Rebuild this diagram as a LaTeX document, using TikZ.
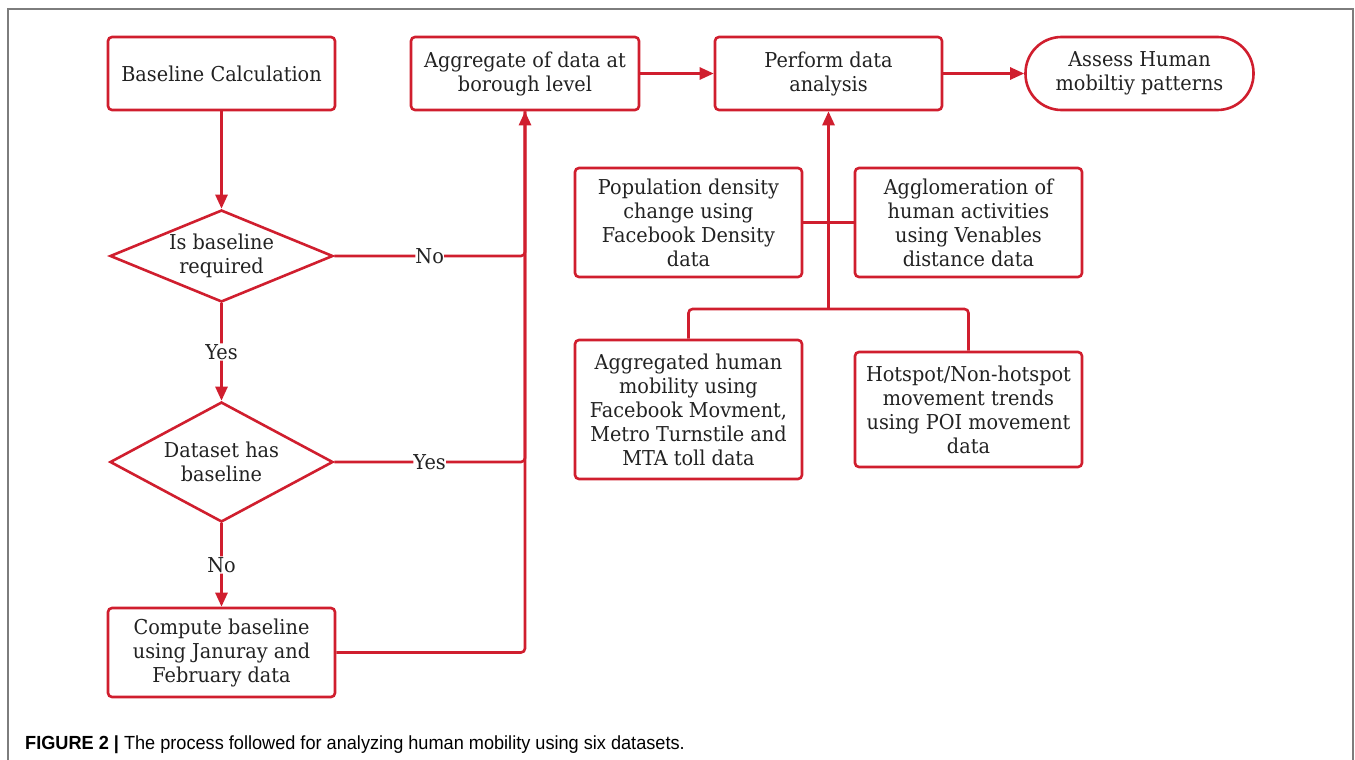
\documentclass[tikz,border=0pt]{standalone}
\usepackage{fontspec}
\setmainfont{DejaVu Serif}[FakeStretch=0.94]
\newfontfamily\capfont{Liberation Sans}[FakeStretch=0.955]
\usetikzlibrary{shapes.geometric,arrows.meta,calc}
\definecolor{fred}{RGB}{208,30,46}
\definecolor{ftxt}{RGB}{34,34,34}
\definecolor{fgray}{RGB}{125,125,125}
\newcommand\myfs{\fontsize{20.5}{24}\selectfont}
\begin{document}
\begin{tikzpicture}[x=1pt,y=-1pt,
  box/.style={draw=fred, line width=2.6pt, rounded corners=4pt, align=center, text=ftxt,
    font=\myfs, inner sep=0pt, minimum width=227pt, minimum height=73pt, fill=white},
  stadium/.style={box, rounded corners=36pt},
  dia/.style={draw=fred, line width=2.6pt, shape=diamond, inner sep=0pt, fill=white},
  txt/.style={align=center, text=ftxt, font=\myfs, inner sep=0pt},
  conn/.style={draw=fred, line width=2.6pt, rounded corners=4pt},
  arr/.style={conn, -{Triangle[length=14pt,width=12pt]}},
  lab/.style={fill=white, text=ftxt, font=\myfs, inner sep=1pt}
]
\useasboundingbox (0,0) rectangle (1355,760);
\draw[fgray, line width=1.5pt] (8,760) -- (8,9) -- (1353,9) -- (1353,760);

% top row
\node[box] (base) at (221.5,73.5) {Baseline Calculation};
\node[box, minimum width=228pt] (agg) at (525,73.5) {Aggregate of data at\\borough level};
\node[box] (perf) at (828.5,73.5) {Perform data\\analysis};
\node[stadium, minimum width=228pt] (assess) at (1139.5,73.5) {Assess Human\\mobiltiy patterns};

% decisions
\node[dia, minimum width=223pt, minimum height=92pt] (d1) at (221.5,256) {};
\node[txt] (d1t) at (d1) {Is baseline\\required};
\node[dia, minimum width=223pt, minimum height=120pt] (d2) at (221.5,462) {};
\node[txt] (d2t) at (d2) {Dataset has\\baseline};
\node[box, minimum height=89pt] (comp) at (221.5,652.5) {Compute baseline\\using Januray and\\February data};

% data boxes
\node[box, minimum height=109pt] (pop) at (688.5,222.5) {Population density\\change using\\Facebook Density\\data};
\node[box, minimum height=109pt] (agl) at (968.5,222.5) {Agglomeration of\\human activities\\using Venables\\distance data};
\node[box, minimum height=139pt] (aggh) at (688.5,409.5) {Aggregated human\\mobility using\\Facebook Movment,\\Metro Turnstile and\\MTA toll data};
\node[box, minimum height=115pt] (hot) at (968.5,409.5) {Hotspot/Non-hotspot\\movement trends\\using POI movement\\data};

\coordinate (j) at (828.5,309);

% connectors
\draw[arr] (base) -- (d1);
\draw[arr] (d1) -- node[lab]{Yes} (d2);
\draw[arr] (d2) -- node[lab]{No} (comp);
\draw[conn] (d1.east) -- node[lab, inner sep=0pt]{No} (d1.east -| agg.south) -- (agg.south);
\draw[conn] (d2.east) -- node[lab, inner sep=0pt]{Yes} (d2.east -| agg.south) -- (agg.south);
\draw[arr] (comp.east) -| (agg.south);
\draw[arr] (agg) -- (perf);
\draw[arr] (perf) -- (assess);
\draw[conn] (pop.east) -- (agl.west);
\draw[conn] (aggh.north) |- (j) -| (hot.north);
\draw[arr] (j) -- (perf.south);

% caption
\node[anchor=west, inner sep=0pt, font=\capfont\fontsize{19}{22}\selectfont] (cap) at (25,745)
  {\textbf{FIGURE 2 |} The process followed for analyzing human mobility using six datasets.};
\end{tikzpicture}
\end{document}
